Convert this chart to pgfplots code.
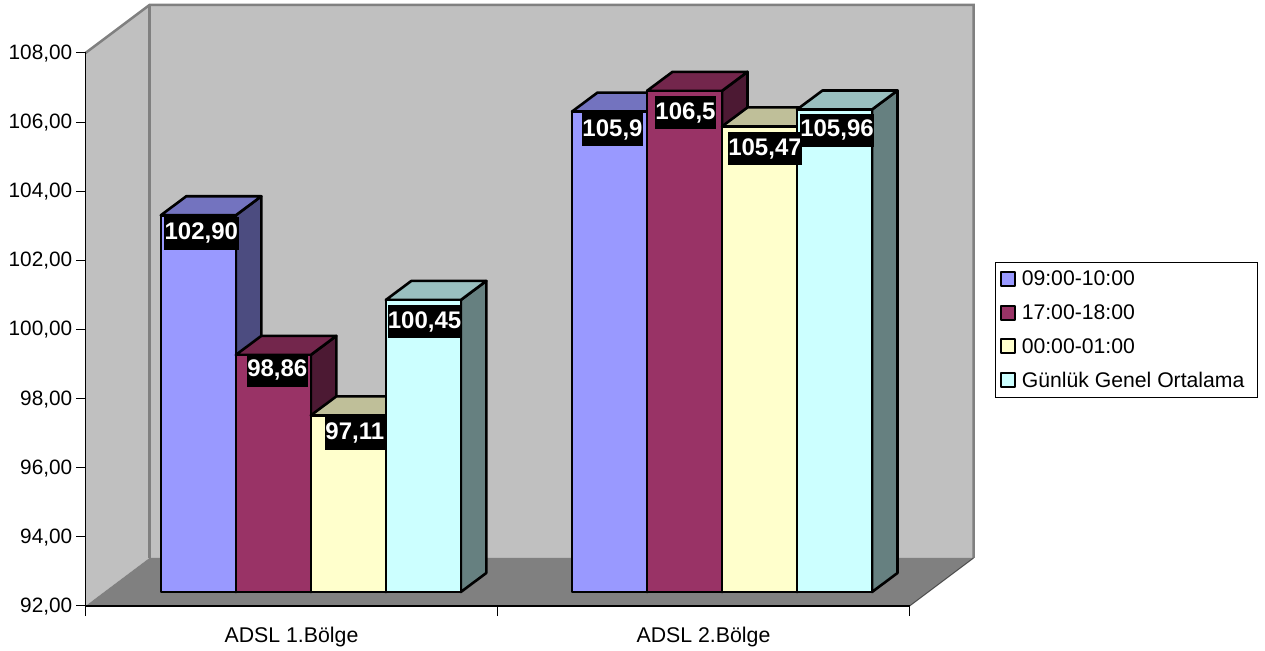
\documentclass[border=0pt]{standalone}
\usepackage{fontspec}
\setmainfont{Liberation Sans}
\usepackage{pgfplots}
\pgfplotsset{compat=1.18}

% proportions of the room and of the bars, in axis units
\pgfmathsetmacro{\wallx}{64/412}
\pgfmathsetmacro{\wally}{48/34.5625}
\pgfmathsetmacro{\barw}{75/412}
\pgfmathsetmacro{\depx}{25.5/412}
\pgfmathsetmacro{\depy}{19/34.5625}
\pgfmathsetmacro{\basey}{92+14/34.5625}
\pgfmathsetmacro{\backy}{92+\wally}
\pgfmathsetmacro{\topy}{108+\wally}
\pgfmathsetmacro{\backr}{2+\wallx}

\definecolor{serA}{HTML}{9999FF}
\definecolor{serB}{HTML}{993366}
\definecolor{serC}{HTML}{FFFFCC}
\definecolor{serD}{HTML}{CCFFFF}
\definecolor{wall}{HTML}{C0C0C0}
\definecolor{floorc}{HTML}{808080}

\tikzset{barvalue/.style={fill=black,text=white,inner sep=0pt,minimum height=33pt,
  font=\fontsize{24}{26}\selectfont\bfseries,anchor=center}}

% #1 left edge of the front face, #2 value, #3 series colour
\newcommand{\solidbar}[3]{%
  \pgfmathsetmacro{\xl}{#1}%
  \pgfmathsetmacro{\xr}{#1+\barw}%
  \pgfmathsetmacro{\xlb}{#1+\depx}%
  \pgfmathsetmacro{\xrb}{#1+\barw+\depx}%
  \pgfmathsetmacro{\yt}{\basey+#2-92}%
  \pgfmathsetmacro{\ytb}{\basey+#2-92+\depy}%
  \pgfmathsetmacro{\ybb}{\basey+\depy}%
  \addplot[forget plot,draw=black,line width=2.6pt,line join=round,fill=#3!50!black]
    coordinates {(\xr,\basey) (\xrb,\ybb) (\xrb,\ytb) (\xr,\yt)} --cycle;
  \addplot[forget plot,draw=black,line width=2.6pt,line join=round,fill=#3!75!black]
    coordinates {(\xl,\yt) (\xr,\yt) (\xrb,\ytb) (\xlb,\ytb)} --cycle;
  \addplot[forget plot,draw=black,line width=2.6pt,line join=round,fill=#3]
    coordinates {(\xl,\basey) (\xr,\basey) (\xr,\yt) (\xl,\yt)} --cycle;
}

% #1 left edge of the bar, #2 value, #3 shift of the label centre in x,
% #4 drop of the label centre below the bar top, #5 width of the box, #6 text
\newcommand{\barlabel}[6]{%
  \pgfmathsetmacro{\lx}{#1+#3/412}%
  \pgfmathsetmacro{\ly}{\basey+#2-92-#4/34.5625}%
  \edef\placelabel{\noexpand\node[barvalue,minimum width=#5pt]
    at (axis cs:\lx,\ly) {#6};}%
  \placelabel
}

\begin{document}
\begin{tikzpicture}
\useasboundingbox (0,0) rectangle (1265pt,650pt);
\begin{axis}[
  at={(85.5pt,44pt)},anchor=south west,
  scale only axis,width=824pt,height=553pt,
  xmin=0,xmax=2,ymin=92,ymax=108,
  clip=false,axis on top,
  axis x line*=bottom,axis y line*=left,
  axis line style={black,line width=1.1pt,-},
  xtick={0.5,1.5},xticklabels={ADSL 1.Bölge,ADSL 2.Bölge},
  minor xtick={0,1,2},
  ytick={92,94,96,98,100,102,104,106,108},
  major x tick style={draw=none},
  minor tick length=10pt,
  minor x tick style={black,line width=1pt},
  y tick style={black,line width=1pt},
  major tick length=9pt,
  tick align=outside,
  /pgf/number format/fixed,
  /pgf/number format/fixed zerofill,
  /pgf/number format/precision=2,
  /pgf/number format/use comma,
  /pgf/number format/1000 sep={},
  /pgf/number format/assume math mode=true,
  ticklabel style={font=\fontsize{20.8}{24}\selectfont},
  yticklabel style={inner sep=0pt,xshift=-4pt,yshift=-0.5pt},
  xticklabel style={inner sep=0pt,yshift=-12pt,font=\fontsize{21.3}{24}\selectfont},
  legend style={at={(1.1037,0.622)},anchor=north west,draw=black,line width=0.8pt,
    fill=white,inner xsep=5pt,inner ysep=6.5pt,font=\fontsize{21.2}{24}\selectfont,
    row sep=13.4pt,cells={anchor=west}},
  legend cell align=left,
  legend image code/.code={%
    \draw[#1,line width=2pt,line join=round] (0pt,-7pt) rectangle (14pt,7pt);
    \path (18pt,0pt);},
]
% room: back wall, side wall, floor
\addplot[forget plot,draw=none,fill=wall] coordinates {(\wallx,\backy) (\backr,\backy) (\backr,\topy) (\wallx,\topy)} --cycle;
\addplot[forget plot,draw=none,fill=wall] coordinates {(0,92) (\wallx,\backy) (\wallx,\topy) (0,108)} --cycle;
\addplot[forget plot,draw=floorc,line width=2.5pt] coordinates {(0,108) (\wallx,\topy) (\backr,\topy) (\backr,\backy)};
\addplot[forget plot,draw=floorc,line width=3pt] coordinates {(\wallx,\topy) (\wallx,\backy)};
\addplot[forget plot,draw=none,fill=floorc] coordinates {(0,92) (\wallx,\backy) (\backr,\backy) (2,92)} --cycle;
\addplot[forget plot,draw=black!70,line width=1pt] coordinates {(2,92) (\backr,\backy)};

% legend keys
\addlegendimage{draw=black,fill=serA}\addlegendentry{09:00-10:00}
\addlegendimage{draw=black,fill=serB}\addlegendentry{17:00-18:00}
\addlegendimage{draw=black,fill=serC}\addlegendentry{00:00-01:00}
\addlegendimage{draw=black,fill=serD}\addlegendentry{Günlük Genel Ortalama\rule{6pt}{0pt}}

% first region
\solidbar{0.1828}{102.90}{serA}
\solidbar{0.36484}{98.86}{serB}
\solidbar{0.54688}{97.11}{serC}
\solidbar{0.72892}{100.45}{serD}
% second region
\solidbar{1.18083}{105.90}{serA}
\solidbar{1.36286}{106.50}{serB}
\solidbar{1.54490}{105.47}{serC}
\solidbar{1.72694}{105.96}{serD}

\barlabel{0.1828}{102.90}{40.5}{18}{75}{102,90}
\barlabel{0.36484}{98.86}{41.5}{15.5}{61}{98,86}
\barlabel{0.54688}{97.11}{44}{18}{60}{97,11}
\barlabel{0.72892}{100.45}{38.7}{22}{73}{100,45}
\barlabel{1.18083}{105.90}{40.5}{18}{61}{105,9}
\barlabel{1.36286}{106.50}{38.5}{22}{61}{106,5}
\barlabel{1.54490}{105.47}{43}{22.5}{74}{105,47}
\barlabel{1.72694}{105.96}{40}{20.5}{74}{105,96}
\end{axis}
\end{tikzpicture}
\end{document}
